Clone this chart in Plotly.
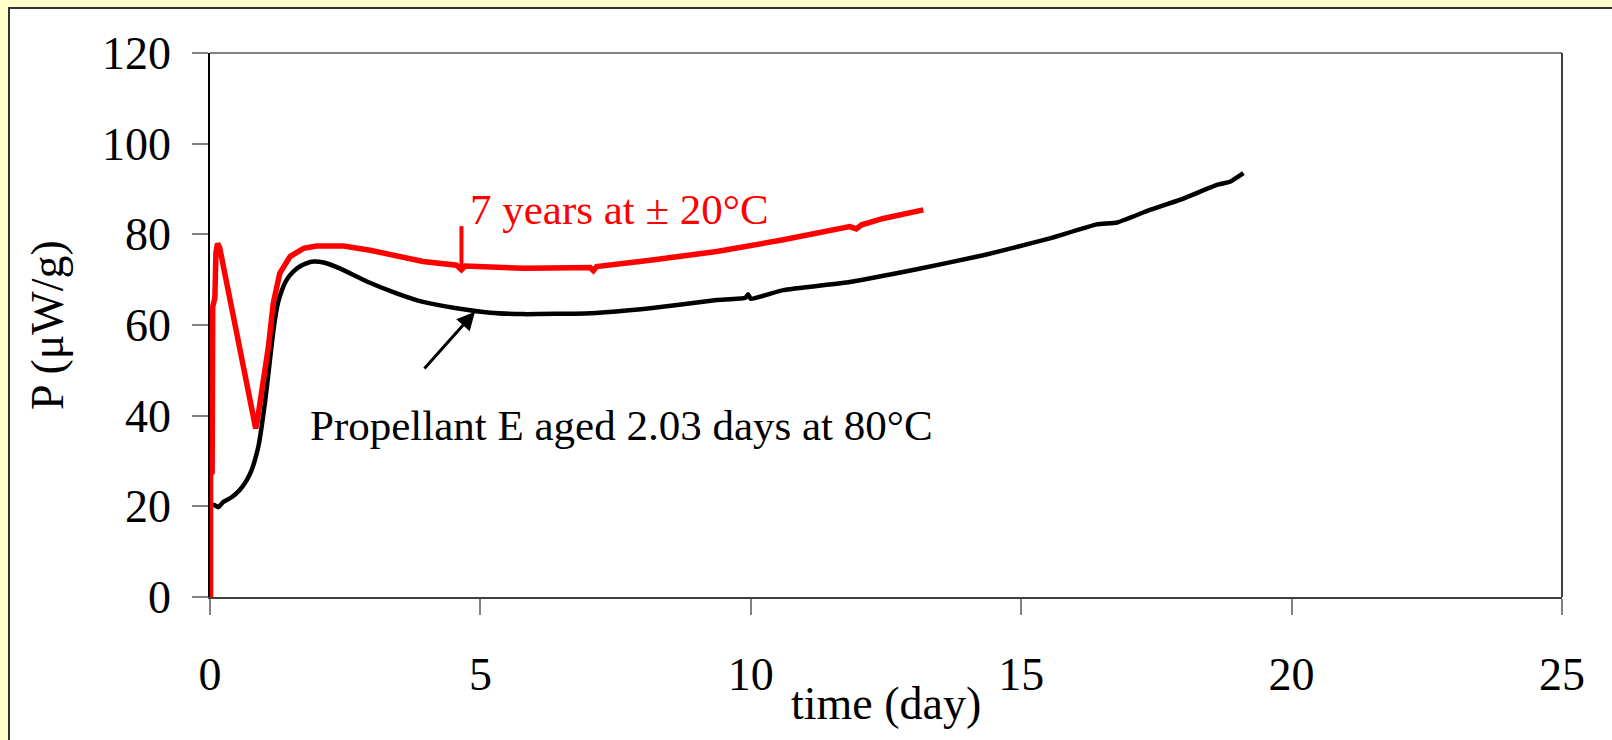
import plotly.graph_objects as go

# Heat flow of propellant E: naturally aged sample vs. artificially aged sample
red_time = [0.0, 0.01, 0.01, 0.04, 0.05, 0.09, 0.11, 0.14, 0.18, 0.845, 0.87, 0.955,
            1.08, 1.17, 1.29, 1.48, 1.73, 1.97, 2.47, 2.96, 3.45, 3.94, 4.56, 4.65,
            4.72, 5.18, 5.79, 6.29, 7.03, 7.09, 7.15, 8.14, 9.37, 10.6, 11.83, 11.95,
            12.05, 12.45, 13.19]
red_power = [0, 0, 27.0, 27.5, 64.0, 66.0, 76.0, 78.0, 77.0, 37.2, 38.5, 45.0,
             55.2, 64.8, 71.4, 75.1, 76.9, 77.4, 77.4, 76.5, 75.1, 74.0, 73.2, 72.2,
             73.0, 72.7, 72.5, 72.6, 72.7, 72.0, 72.9, 74.3, 76.2, 78.8, 81.7, 81.2,
             82.1, 83.5, 85.4]

black_time = [0.0, 0.08, 0.15, 0.25, 0.40, 0.55, 0.68, 0.76, 0.83, 0.90, 0.955, 1.02,
              1.08, 1.14, 1.2, 1.26, 1.33, 1.40, 1.48, 1.57, 1.66, 1.78, 1.91, 2.10,
              2.40, 2.90, 3.45, 3.94, 4.56, 5.18, 5.79, 7.03, 8.14, 9.37, 9.9, 9.95,
              10.0, 10.6, 11.83, 13.07, 14.3, 14.85, 15.53, 16.4, 16.77, 17.38, 18.0,
              18.62, 18.86, 19.11]
black_power = [20.3, 20.3, 19.8, 21.0, 22.0, 23.6, 25.8, 27.7, 30.2, 33.5, 37.6, 43.2,
               49.3, 55.6, 61.1, 65.0, 67.7, 69.6, 71.0, 72.1, 72.9, 73.6, 74.0, 73.8,
               72.5, 69.6, 67.0, 65.1, 63.7, 62.7, 62.4, 62.6, 63.7, 65.5, 66.0, 66.8,
               65.8, 67.7, 69.5, 72.3, 75.4, 77.0, 79.1, 82.2, 82.6, 85.4, 87.9,
               90.9, 91.6, 93.5]

x_ticks = [0, 5, 10, 15, 20, 25]
y_ticks = [0, 20, 40, 60, 80, 100, 120]

SERIF = "Liberation Serif, Times New Roman, serif"

fig = go.Figure()
fig.add_trace(go.Scatter(x=black_time, y=black_power, mode="lines",
                         line=dict(color="#000000", width=4.5, shape="spline",
                                   smoothing=0.4), showlegend=False))
fig.add_trace(go.Scatter(x=red_time, y=red_power, mode="lines",
                         line=dict(color="#FF0000", width=5.5), showlegend=False))

L, R, T, B = 210, 50, 53, 143
W, H = 1612, 740
pw, ph = W - L - R, H - T - B

def px_x(p):
    return (p - L) / pw

def px_y(p):
    return (H - B - p) / ph

shapes = [
    # white panel framed on top/left
    dict(type="rect", xref="paper", yref="paper", x0=px_x(9), x1=px_x(1640),
         y0=px_y(780), y1=px_y(8), fillcolor="white",
         line=dict(color="#333333", width=2), layer="below"),
    # plot frame: top and right edges
    dict(type="line", xref="paper", yref="paper", x0=0, x1=1, y0=1, y1=1,
         line=dict(color="#808080", width=2)),
    dict(type="line", xref="paper", yref="paper", x0=1, x1=1, y0=0, y1=1,
         line=dict(color="#404040", width=2)),
    # red marker on the naturally aged curve
    dict(type="line", xref="x", yref="y", x0=4.65, x1=4.65, y0=72.2, y1=81.8,
         line=dict(color="#FF0000", width=4)),
]

annotations = [
    dict(text="7 years at \u00b1 20\u00b0C", x=4.77, y=85.4, xref="x", yref="y",
         xanchor="left", yanchor="middle", showarrow=False,
         font=dict(family=SERIF, size=43, color="#FF0000")),
    dict(text="Propellant E aged 2.03 days at 80\u00b0C", x=1.81, y=37.9,
         xref="x", yref="y", xanchor="left", yanchor="middle", showarrow=False,
         font=dict(family=SERIF, size=43, color="#000000")),
    dict(text="", x=4.90, y=62.9, ax=3.94, ay=50.1, xref="x", yref="y",
         axref="x", ayref="y", showarrow=True, arrowhead=2, arrowsize=1.2,
         arrowwidth=3, arrowcolor="#000000"),
    dict(text="time (day)", x=0.5, y=px_y(703), xref="paper", yref="paper",
         xanchor="center", yanchor="middle", showarrow=False,
         font=dict(family=SERIF, size=46, color="#000000")),
    dict(text="P (\u03bcW/g)", x=px_x(47), y=0.5, xref="paper", yref="paper",
         xanchor="center", yanchor="middle", textangle=-90, showarrow=False,
         font=dict(family=SERIF, size=46, color="#000000")),
]

fig.update_layout(
    width=W, height=H,
    margin=dict(l=L, r=R, t=T, b=B),
    paper_bgcolor="#FFFFCC",
    plot_bgcolor="white",
    shapes=shapes,
    annotations=annotations,
    xaxis=dict(range=[0, 25], tickvals=x_ticks, ticktext=[str(v) for v in x_ticks],
               showgrid=False, zeroline=False, showline=True, linecolor="#404040",
               linewidth=2, ticks="outside", ticklen=16, tickwidth=1.5,
               tickcolor="#808080", ticklabelstandoff=20,
               tickfont=dict(family=SERIF, size=46, color="#000000")),
    yaxis=dict(range=[0, 120], tickvals=y_ticks, ticktext=[str(v) for v in y_ticks],
               showgrid=False, zeroline=False, showline=True, linecolor="#000000",
               linewidth=1.5, ticks="outside", ticklen=16, tickwidth=1.5,
               tickcolor="#808080", ticklabelstandoff=12,
               tickfont=dict(family=SERIF, size=46, color="#000000")),
)

fig.write_html("out.html")
